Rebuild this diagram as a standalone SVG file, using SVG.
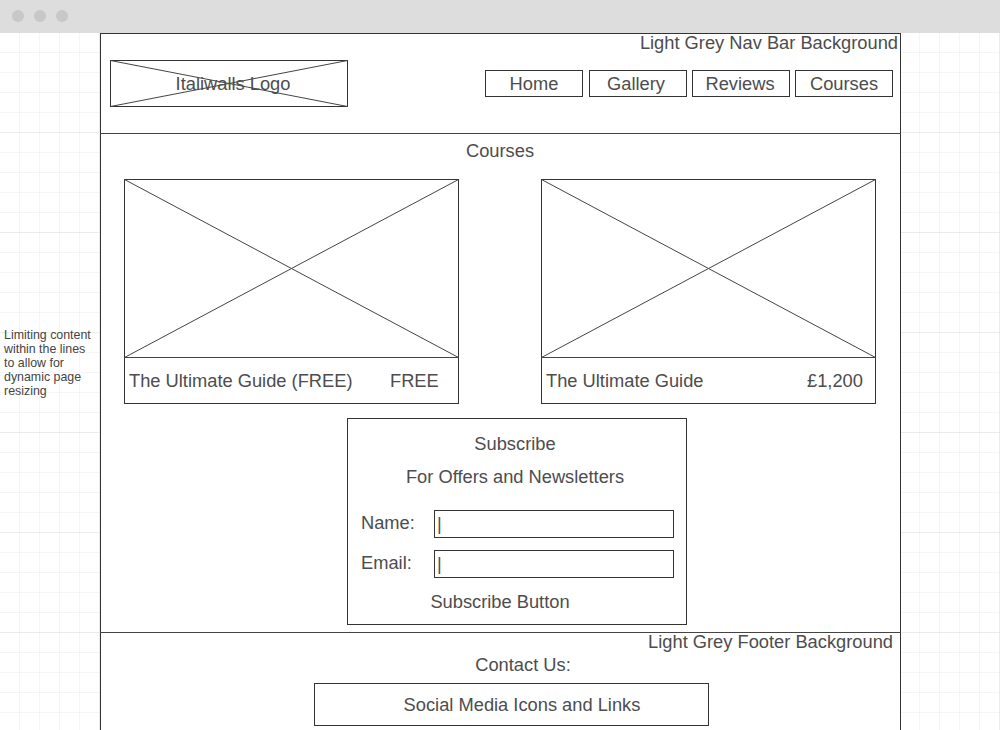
<svg xmlns="http://www.w3.org/2000/svg" width="1000" height="730" viewBox="0 0 1000 730">
<defs>
<pattern id="minor" x="0" y="33" width="20" height="20" patternUnits="userSpaceOnUse">
<path d="M20 0V20M0 20H20" fill="none" stroke="#ebebeb" stroke-width="1"/>
</pattern>
<pattern id="major" x="0" y="33" width="100" height="100" patternUnits="userSpaceOnUse">
<path d="M100 0V100M0 100H100" fill="none" stroke="#e0e0e0" stroke-width="1"/>
</pattern>
</defs>
<style>
.b{fill:#fff;stroke:#333;stroke-width:1}
.n{fill:none;stroke:#333;stroke-width:1}
.x{stroke:#444;stroke-width:1}
text{font-family:"Liberation Sans",Arial,sans-serif;fill:#4d4d4d;font-size:18.3px}
.c{text-anchor:middle}
.r{text-anchor:end}
.s{font-size:12.4px;fill:#444}
</style>
<rect x="0" y="0" width="1000" height="730" fill="#fff"/>
<rect x="0" y="33" width="1000" height="697" fill="url(#minor)"/>
<rect x="0" y="33" width="1000" height="697" fill="url(#major)"/>
<g id="chrome">
<rect x="0" y="0" width="1000" height="33" fill="#dddddd"/>
<circle cx="18" cy="16" r="6" fill="#c8c8c8"/>
<circle cx="40" cy="16" r="6" fill="#c8c8c8"/>
<circle cx="62" cy="16" r="6" fill="#c8c8c8"/>
</g>
<g id="page">
<rect x="100.5" y="33.5" width="800" height="710" class="b"/>
<line x1="100" y1="133.5" x2="901" y2="133.5" class="x"/>
<line x1="100" y1="632.5" x2="901" y2="632.5" class="x"/>
</g>
<g id="annotation">
<text class="s" x="4" y="339">Limiting content</text>
<text class="s" x="4" y="353">within the lines</text>
<text class="s" x="4" y="367">to allow for</text>
<text class="s" x="4" y="381">dynamic page</text>
<text class="s" x="4" y="395">resizing</text>
</g>
<g id="navlabel"><text class="r" x="898" y="49">Light Grey Nav Bar Background</text></g>
<g id="logo">
<rect x="110.5" y="60.5" width="237" height="46" class="b"/>
<line x1="110.5" y1="60.5" x2="347.5" y2="106.5" class="x"/>
<line x1="110.5" y1="106.5" x2="347.5" y2="60.5" class="x"/>
<text class="c" x="233" y="90">Italiwalls Logo</text>
</g>
<g id="nav-home"><rect x="485.5" y="70.5" width="97" height="26" class="b"/><text class="c" x="534" y="90">Home</text></g>
<g id="nav-gallery"><rect x="589.5" y="70.5" width="97" height="26" class="b"/><text class="c" x="636" y="90">Gallery</text></g>
<g id="nav-reviews"><rect x="692.5" y="70.5" width="97" height="26" class="b"/><text class="c" x="740" y="90">Reviews</text></g>
<g id="nav-courses"><rect x="795.5" y="70.5" width="97" height="26" class="b"/><text class="c" x="844" y="90">Courses</text></g>
<g id="courses-title"><text class="c" x="500" y="157">Courses</text></g>
<g id="card1">
<rect x="124.5" y="179.5" width="334" height="224" class="b"/>
<line x1="124.5" y1="179.5" x2="458.5" y2="357.5" class="x"/>
<line x1="124.5" y1="357.5" x2="458.5" y2="179.5" class="x"/>
<line x1="124.5" y1="357.5" x2="458.5" y2="357.5" class="x"/>
<text x="129" y="387">The Ultimate Guide (FREE)</text>
<text x="390" y="387">FREE</text>
</g>
<g id="card2">
<rect x="541.5" y="179.5" width="334" height="224" class="b"/>
<line x1="541.5" y1="179.5" x2="875.5" y2="357.5" class="x"/>
<line x1="541.5" y1="357.5" x2="875.5" y2="179.5" class="x"/>
<line x1="541.5" y1="357.5" x2="875.5" y2="357.5" class="x"/>
<text x="546" y="387">The Ultimate Guide</text>
<text x="807" y="387">£1,200</text>
</g>
<g id="subscribe">
<rect x="347.5" y="418.5" width="339" height="206" class="b"/>
<text class="c" x="515" y="450">Subscribe</text>
<text class="c" x="515" y="483">For Offers and Newsletters</text>
<text x="361" y="529">Name:</text>
<rect x="434.5" y="510.5" width="239" height="27" class="b"/>
<text x="437" y="530">|</text>
<text x="361" y="569">Email:</text>
<rect x="434.5" y="550.5" width="239" height="27" class="b"/>
<text x="437" y="570">|</text>
<text class="c" x="500" y="608">Subscribe Button</text>
</g>
<g id="footer">
<text class="r" x="893" y="648">Light Grey Footer Background</text>
<text class="c" x="523" y="671">Contact Us:</text>
<rect x="314.5" y="683.5" width="394" height="42" class="b"/>
<text class="c" x="522" y="711">Social Media Icons and Links</text>
</g>
<g id="connectors"/>
</svg>
